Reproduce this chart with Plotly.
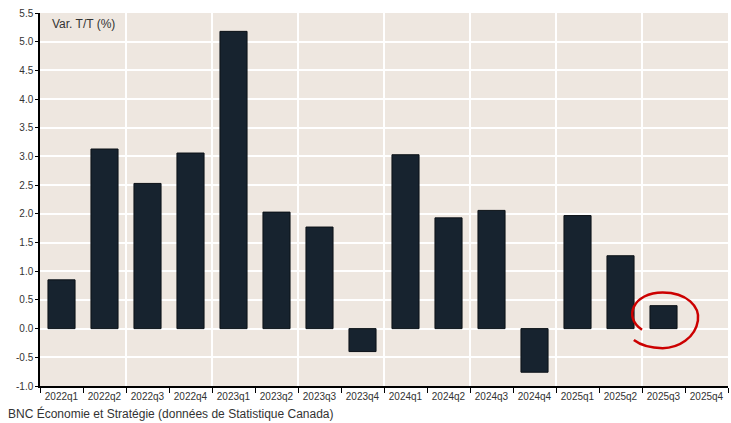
import plotly.graph_objects as go

categories = ["2022q1", "2022q2", "2022q3", "2022q4",
              "2023q1", "2023q2", "2023q3", "2023q4",
              "2024q1", "2024q2", "2024q3", "2024q4",
              "2025q1", "2025q2", "2025q3", "2025q4"]
values = [0.85, 3.13, 2.53, 3.06,
          5.18, 2.03, 1.77, -0.40,
          3.03, 1.93, 2.06, -0.76,
          1.97, 1.27, 0.40, None]
y_ticks = [-1.0, -0.5, 0.0, 0.5, 1.0, 1.5, 2.0, 2.5, 3.0, 3.5, 4.0, 4.5, 5.0, 5.5]

n = len(categories)
xs = list(range(n))
boundaries = [i - 0.5 for i in range(n + 1)]
grid_bounds = boundaries[2:-1:2]

FONT = "Liberation Sans, Arial, sans-serif"

fig = go.Figure()
fig.add_trace(go.Bar(
    x=xs, y=values, width=0.63,
    marker=dict(color="#17232f", line=dict(color="#0b1117", width=1)),
    hoverinfo="skip", showlegend=False,
))
# invisible helper trace so the overlay axis (vertical gridlines) is drawn
fig.add_trace(go.Scatter(x=[None], y=[None], xaxis="x2", yaxis="y",
                         mode="markers", showlegend=False, hoverinfo="skip"))

fig.update_layout(
    width=731, height=423,
    margin=dict(l=40, r=3, t=13, b=37),
    paper_bgcolor="white",
    plot_bgcolor="#eee7e0",
    font=dict(family=FONT, color="#333333"),
    xaxis=dict(
        range=[-0.5, n - 0.5],
        tickmode="array", tickvals=xs, ticktext=categories,
        ticks="", showgrid=False, zeroline=False,
        showline=True, linecolor="black", linewidth=1.5,
        tickfont=dict(size=10, color="#333333"),
        minor=dict(tickmode="array", tickvals=boundaries, ticks="outside",
                   ticklen=5, tickcolor="black", tickwidth=1, showgrid=False),
    ),
    xaxis2=dict(
        overlaying="x", matches="x", side="bottom",
        range=[-0.5, n - 0.5],
        tickmode="array", tickvals=grid_bounds,
        showticklabels=False, ticks="",
        showgrid=True, gridcolor="white", gridwidth=1.5,
        zeroline=False, showline=False,
    ),
    yaxis=dict(
        range=[-1.0, 5.5],
        tickmode="array", tickvals=y_ticks,
        ticktext=[f"{v:.1f}" for v in y_ticks],
        ticks="outside", ticklen=3, tickcolor="black",
        showgrid=True, gridcolor="white", gridwidth=1.5,
        zeroline=False,
        showline=True, linecolor="black", linewidth=1.5,
        tickfont=dict(size=10, color="#333333"),
    ),
    bargap=0.37,
)

fig.add_annotation(
    text="Var. T/T (%)", xref="paper", yref="paper",
    x=0.0145, y=0.97, xanchor="left", yanchor="middle",
    showarrow=False, font=dict(size=12, color="#333333", family=FONT),
)
fig.add_annotation(
    text="BNC Économie et Stratégie (données de Statistique Canada)",
    xref="paper", yref="paper", x=-0.05, y=-0.074,
    xanchor="left", yanchor="middle", showarrow=False,
    font=dict(size=12, color="#333333", family=FONT),
)

# hand-drawn red loop highlighting the latest quarter
fig.add_shape(
    type="path", xref="x", yref="y",
    path=("M 13.50,-0.02 C 13.05,0.20 13.30,0.63 13.98,0.63 "
          "C 14.55,0.63 14.85,0.38 14.80,0.14 "
          "C 14.74,-0.16 14.35,-0.34 13.98,-0.34 "
          "C 13.70,-0.34 13.45,-0.28 13.31,-0.20"),
    line=dict(color="#cc0000", width=2.5),
    layer="above",
)

fig.write_html("out.html")
